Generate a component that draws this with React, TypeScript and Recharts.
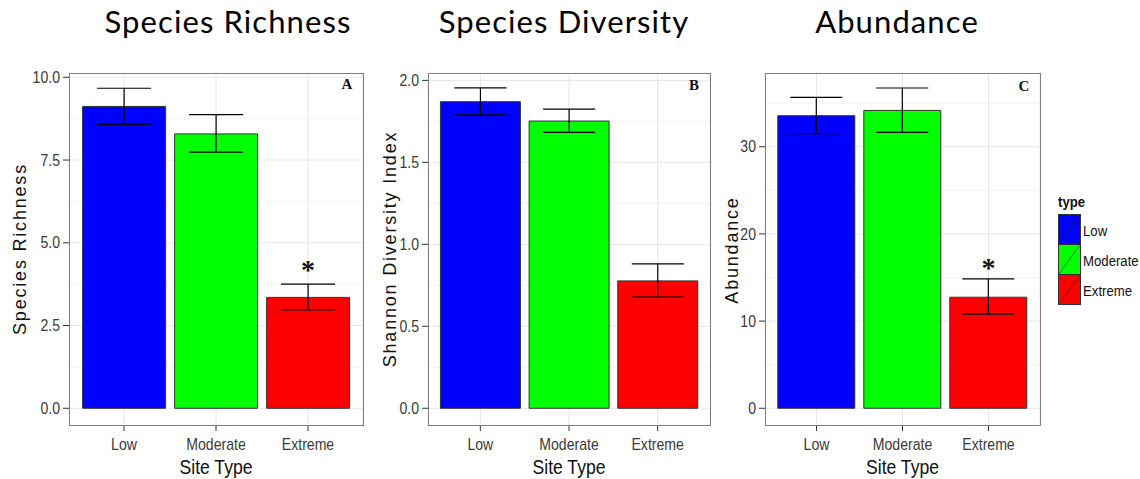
import React from 'react';
import { BarChart, Bar, XAxis, YAxis, CartesianGrid, ErrorBar, Cell, ReferenceDot } from 'recharts';

const categories = ['Low', 'Moderate', 'Extreme'];
const barColors = ['#0000FF', '#00FF00', '#FF0000'];

const richnessMean = [9.12, 8.29, 3.35];
const richnessLower = [8.58, 7.74, 2.97];
const richnessUpper = [9.67, 8.87, 3.75];
const richnessTicks = [0, 2.5, 5, 7.5, 10];
const richnessMinor = [1.25, 3.75, 6.25, 8.75];

const diversityMean = [1.87, 1.752, 0.777];
const diversityLower = [1.79, 1.683, 0.678];
const diversityUpper = [1.954, 1.825, 0.881];
const diversityTicks = [0, 0.5, 1, 1.5, 2];
const diversityMinor = [0.25, 0.75, 1.25, 1.75];

const abundanceMean = [33.56, 34.17, 12.74];
const abundanceLower = [31.49, 31.64, 10.79];
const abundanceUpper = [35.66, 36.74, 14.85];
const abundanceTicks = [0, 10, 20, 30];
const abundanceMinor = [5, 15, 25, 35];

const SANS = "'Liberation Sans', Arial, sans-serif";
const SQUEEZE = 0.88;
const W = 1140;
const H = 479;
const AXIS_W = 60;
const PLOT_TOP = 73;
const PLOT_BOTTOM = 425;

const panels = [
  {
    title: 'Species Richness', yLabel: 'Species Richness', letter: 'A',
    mean: richnessMean, lower: richnessLower, upper: richnessUpper,
    ticks: richnessTicks, minor: richnessMinor, domain: [-0.505, 10.13], digits: 1, star: 4.3,
  },
  {
    title: 'Species Diversity', yLabel: 'Shannon Diversity Index', letter: 'B',
    mean: diversityMean, lower: diversityLower, upper: diversityUpper,
    ticks: diversityTicks, minor: diversityMinor, domain: [-0.102, 2.045], digits: 1, star: undefined,
  },
  {
    title: 'Abundance', yLabel: 'Abundance', letter: 'C',
    mean: abundanceMean, lower: abundanceLower, upper: abundanceUpper,
    ticks: abundanceTicks, minor: abundanceMinor, domain: [-1.92, 38.46], digits: 0, star: 16.5,
  },
];

const layout = [
  { left: 69, right: 363, pad: 9, cap: 27, yLabelX: 26, yLabelY: 249, titleX: 228, letterX: 347, letterY: 89 },
  { left: 428, right: 710, pad: 8, cap: 26, yLabelX: 396, yLabelY: 249, titleX: 564, letterX: 694, letterY: 90 },
  { left: 765, right: 1040, pad: 8.5, cap: 26, yLabelX: 738, yLabelY: 250, titleX: 897, letterX: 1024, letterY: 91 },
];

// condensed text: no narrow font installed, so squeeze horizontally
function Narrow({ x, y, size, anchor = 'start', dy, weight, children }: any) {
  return (
    <text
      transform={`translate(${x} ${y}) scale(${SQUEEZE} 1)`}
      textAnchor={anchor}
      dy={dy}
      fontSize={size}
      fontWeight={weight}
      fontFamily={SANS}
      fill="#111"
    >
      {children}
    </text>
  );
}

function Star(props: any) {
  return (
    <text x={props.cx} y={props.cy + 13} textAnchor="middle" fontSize={28} fontWeight="bold" fontFamily="'Liberation Serif', serif" fill="#111">
      *
    </text>
  );
}

function PanelChart({ p, l }: { p: any; l: any }) {
  const rows = categories.map((type, i) => ({
    type,
    mean: p.mean[i],
    err: [p.mean[i] - p.lower[i], p.upper[i] - p.mean[i]],
  }));
  const plotW = l.right - l.left;
  const xTick = (t: any) => (
    <g transform={`translate(${t.x} ${t.y}) scale(${SQUEEZE} 1)`}>
      <text textAnchor="middle" dy="0.71em" fontSize={16} fontFamily={SANS} fill="#3a3a3a">
        {t.payload.value}
      </text>
    </g>
  );
  const yTick = (t: any) => (
    <g transform={`translate(${t.x} ${t.y}) scale(${SQUEEZE} 1)`}>
      <text textAnchor="end" dy="0.355em" fontSize={16} fontFamily={SANS} fill="#3a3a3a">
        {Number(t.payload.value).toFixed(p.digits)}
      </text>
    </g>
  );
  return (
    <div style={{ position: 'absolute', left: l.left - AXIS_W, top: 0 }}>
      <BarChart
        width={plotW + AXIS_W}
        height={H}
        data={rows}
        margin={{ top: PLOT_TOP, right: 0, left: 0, bottom: 0 }}
        barCategoryGap="5%"
      >
        <CartesianGrid horizontalValues={p.minor} vertical={false} stroke="#f3f3f3" />
        <CartesianGrid horizontalValues={p.ticks} stroke="#e6e6e6" />
        <XAxis
          dataKey="type"
          height={H - PLOT_BOTTOM}
          padding={{ left: l.pad, right: l.pad }}
          axisLine={false}
          tickSize={6}
          tickMargin={8}
          tickLine={{ stroke: '#333' }}
          tick={xTick}
          interval={0}
        />
        <YAxis
          type="number"
          domain={p.domain}
          ticks={p.ticks}
          allowDataOverflow
          width={AXIS_W}
          axisLine={false}
          tickSize={6}
          tickMargin={3}
          tickLine={{ stroke: '#333' }}
          tick={yTick}
        />
        <Bar dataKey="mean" stroke="#333" strokeWidth={1} isAnimationActive={false}>
          {rows.map((r, i) => (
            <Cell key={r.type} fill={barColors[i]} />
          ))}
          <ErrorBar dataKey="err" width={l.cap} stroke="#000" strokeWidth={1.2} isAnimationActive={false} />
        </Bar>
        {p.star !== undefined && <ReferenceDot x="Extreme" y={p.star} r={1} shape={Star} />}
      </BarChart>
    </div>
  );
}

export default function App() {
  return (
    <div style={{ position: 'absolute', left: 0, top: 0, width: W, height: H, background: '#fff' }}>
      {panels.map((p, i) => (
        <PanelChart key={p.letter} p={p} l={layout[i]} />
      ))}
      <svg width={W} height={H} style={{ position: 'absolute', left: 0, top: 0, pointerEvents: 'none' }}>
        {panels.map((p, i) => {
          const l = layout[i];
          return (
            <g key={p.letter}>
              <text
                x={l.titleX}
                y={33}
                textAnchor="middle"
                fontSize={31}
                letterSpacing={1.1}
                fontFamily="Lato, 'DejaVu Sans', sans-serif"
                fill="#000"
              >
                {p.title}
              </text>
              <rect x={l.left + 0.5} y={PLOT_TOP + 0.5} width={l.right - l.left} height={PLOT_BOTTOM - PLOT_TOP} fill="none" stroke="#7f7f7f" strokeWidth={1} />
              <text x={l.letterX} y={l.letterY} textAnchor="middle" fontSize={15} fontWeight="bold" fontFamily="'Liberation Serif', serif" fill="#111">
                {p.letter}
              </text>
              <text
                x={l.yLabelX}
                y={l.yLabelY}
                transform={`rotate(-90 ${l.yLabelX} ${l.yLabelY})`}
                textAnchor="middle"
                fontSize={18}
                letterSpacing={1.8}
                fontFamily={SANS}
                fill="#111"
              >
                {p.yLabel}
              </text>
              <Narrow x={(l.left + l.right) / 2} y={474} size={20} anchor="middle">
                Site Type
              </Narrow>
            </g>
          );
        })}
        <g>
          <Narrow x={1058} y={207} size={15} weight="bold">
            type
          </Narrow>
          {categories.map((c, i) => {
            const y = 214.5 + i * 30;
            return (
              <g key={c}>
                <rect x={1058.5} y={y} width={22} height={30} fill={barColors[i]} stroke="#333" strokeWidth={1} />
                <line x1={1059} y1={y + 29.5} x2={1080} y2={y + 0.5} stroke="#222" strokeWidth={0.6} />
                <Narrow x={1083} y={y + 21} size={15}>
                  {c}
                </Narrow>
              </g>
            );
          })}
        </g>
      </svg>
    </div>
  );
}
